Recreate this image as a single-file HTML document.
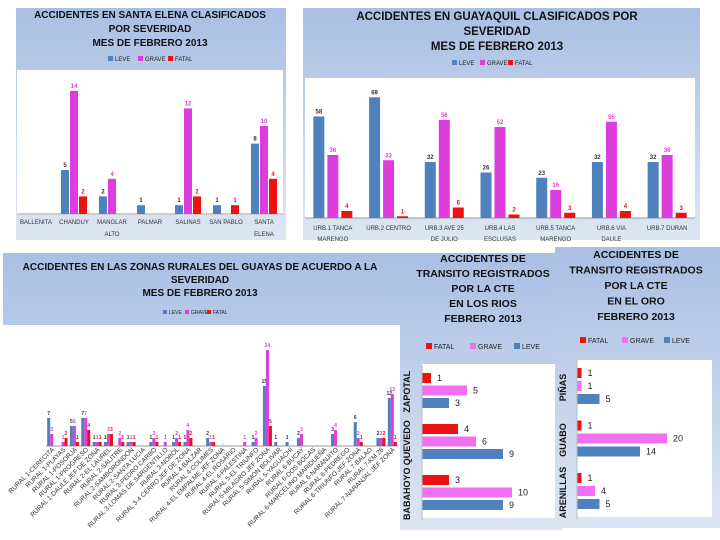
<!DOCTYPE html>
<html><head><meta charset="utf-8"><style>
html,body{margin:0;padding:0;background:#fff;}
svg{display:block;font-family:"Liberation Sans",sans-serif;}
</style></head><body>
<svg id="s" width="720" height="540" viewBox="0 0 720 540">
<defs>
<linearGradient id="bg" x1="0" y1="0" x2="0" y2="1"><stop offset="0" stop-color="#a9bfe3"/><stop offset="1" stop-color="#dde6f3"/></linearGradient>
</defs>
</svg>
<script>
// ---- data ----
const seCats=["BALLENITA","CHANDUY","MANGLAR|ALTO","PALMAR","SALINAS","SAN PABLO","SANTA|ELENA"];
const seLeve=[0,5,2,1,1,1,8];
const seGrave=[0,14,4,0,12,0,10];
const seFatal=[0,2,0,0,2,1,4];

const gyCats=["URB.1 TANCA|MARENGO","URB.2 CENTRO","URB.3 AVE 25|DE JULIO","URB.4 LAS|ESCLUSAS","URB.5 TANCA|MARENGO","URB.6 VIA|DAULE","URB.7 DURAN"];
const gyLeve=[58,69,32,26,23,32,32];
const gyGrave=[36,33,56,52,16,55,36];
const gyFatal=[4,1,6,2,3,4,3];

const ruCats=["RURAL 1-CERECITA","RURAL 1-PLAYAS","RURAL 1-POSORJA","RURAL 1-PROGRESO","RURAL 1-DAULE JEF DE ZONA","RURAL 2-EL LAUREL","RURAL 2-SALITRE","RURAL 2-SAMBORONDON","RURAL 2-SANTA LUCIA","RURAL 3-PEDRO CARBO","RURAL 3-LOMAS DE SARGENTILLO","RURAL 3-NOBOL","RURAL 3-4 CERRO JEF DE ZONA","RURAL 4-BALZAR","RURAL 4-COLIMES","RURAL 4-EL EMPALME JEF ZONA","RURAL 4-EL ROSARIO","RURAL 4-PALESTINA","RURAL 5-EL TRIUNFO","RURAL 5-MILAGRO JEF ZONA","RURAL 5-SIMON BOLIVAR","RURAL 5-YAGUACHI","RURAL 6-BUCAY","RURAL 6-DOS BOCAS","RURAL 6-MARCELINO MARIDUEÑA","RURAL 6-NARANJITO","RURAL 6-PEDREGO","RURAL 6-TRIUNFO JEF ZONA","RURAL 7-BALAO","RURAL 7-KM 26","RURAL 7-NARANJAL JEF ZONA"];
const ruLeve=[7,0,5,7,1,1,0,1,0,1,0,1,1,0,2,0,0,0,1,15,1,1,2,0,0,3,0,6,0,2,12];
const ruGrave=[3,1,5,7,1,3,2,1,0,2,1,2,4,0,1,0,0,1,2,24,0,0,3,0,0,4,0,2,0,2,13];
const ruFatal=[0,2,1,4,1,3,1,1,0,1,0,1,2,0,1,0,0,0,0,5,0,0,0,0,0,0,0,1,0,2,1];

const lrCats=["ZAPOTAL","QUEVEDO","BABAHOYO"];
const lrFatal=[1,4,3];
const lrGrave=[5,6,10];
const lrLeve=[3,9,9];

const eoCats=["PIÑAS","GUABO","ARENILLAS"];
const eoFatal=[1,1,1];
const eoGrave=[1,20,4];
const eoLeve=[5,14,5];

// ---- helpers ----
const svg=document.getElementById('s');
const NS="http://www.w3.org/2000/svg";
function mk(tag,attrs,parent){const e=document.createElementNS(NS,tag);for(const k in attrs)e.setAttribute(k,attrs[k]);(parent||svg).appendChild(e);return e;}
function txt(x,y,s,size,fill,weight,anchor,parent){const t=mk('text',{x:x,y:y,'font-size':size,fill:fill,'font-weight':weight||'normal','text-anchor':anchor||'middle'},parent);t.textContent=s;return t;}
const BLUE="#4f81bd",MAG="#dd3ddd",RED="#ee1111",PINK="#f070f0";

function panel(name,x,y,w,h,px,py,pw,ph){
  const g=mk('g',{});
  
  
  mk('rect',{x:x,y:y,width:w,height:h,fill:'url(#bg)'},g);
  const p=mk('rect',{x:px,y:py,width:pw,height:ph,fill:'#fff'},g);
  
  
  return g;
}
function title(g,lines,cx,y0,dy,size){
  const t=mk('g',{},g);
  
  
  lines.forEach((l,i)=>txt(cx,y0+i*dy,l,size,'#111','bold','middle',t));
}
function legend(g,items,x,y,size,gap){
  const lg=mk('g',{},g);
  
  
  let cx=x;
  items.forEach(it=>{
    const e=mk('g',{},lg);
    
    
    mk('rect',{x:cx,y:y-size+1,width:size-1,height:size-1,fill:it[1]},e);
    txt(cx+size+1,y,it[0],size,'#222','normal','start',e);
    cx+=gap;
  });
}

function vbars(g,cats,series,colors,x0,w,base,scale,bw,step,lblSize,catY,catSize,catDy,rot){
  const n=cats.length,cw=w/n;
  const axis=mk('line',{x1:x0,x2:x0+w,y1:base,y2:base,stroke:'#999','stroke-width':1},g);
  
  
  cats.forEach((c,i)=>{
    const cx=x0+cw*(i+0.5);
    const start=cx-(step*(series.length-1)+bw)/2;
    series.forEach((s,k)=>{
      const v=s[i];
      if(v>0){
        const h=v*scale;
        const r=mk('rect',{x:start+k*step,y:base-h,width:bw,height:h,fill:colors[k]},g);
        
        
        txt(start+k*step+bw/2,base-h-3,String(v),lblSize,k==0?'#333':colors[k],'bold','middle',g);
      }
    });
    if(rot){
      const t=txt(0,0,c,catSize,'#333','normal','end',g);
      t.setAttribute('transform','translate('+(cx+3)+','+(catY)+') rotate(-45)');
      
      
    }else{
      c.split('|').forEach((l,j)=>{
        const t=txt(cx,catY+j*catDy,l,catSize,'#333','normal','middle',g);
        
        
      });
    }
  });
}
function hbars(g,cats,series,colors,x0,y0,gh,scale,bh,step,catX){
  cats.forEach((c,i)=>{
    const gy=y0+i*gh;
    series.forEach((s,k)=>{
      const w=s[i]*scale;
      const r=mk('rect',{x:x0,y:gy+k*step,width:w,height:bh,fill:colors[k]},g);
      
      
      txt(x0+w+6,gy+k*step+bh-2,String(s[i]),9,'#222','normal','start',g);
    });
    const t=txt(0,0,c,9,'#111','bold','middle',g);
    t.setAttribute('transform','translate('+catX+','+(gy+step*1.5)+') rotate(-90)');
    
    
  });
  const ax=mk('line',{x1:x0,x2:x0,y1:y0-8,y2:y0+gh*cats.length-6,stroke:'#bbb'},g);
  
  
}

// ---- Santa Elena ----
let g=panel('santa-elena-chart',16,8,270,232,17,70,266,145);
title(g,["ACCIDENTES EN SANTA ELENA CLASIFICADOS","POR SEVERIDAD","MES DE FEBRERO 2013"],150,18,14,10);
legend(g,[["LEVE",BLUE],["GRAVE",MAG],["FATAL",RED]],108,61,6,30);
vbars(g,seCats,[seLeve,seGrave,seFatal],[BLUE,MAG,RED],17,266,214,8.8,8,9,6,224,6,12,false);

// ---- Guayaquil ----
g=panel('guayaquil-chart',303,8,397,232,305,78,390,140);
title(g,["ACCIDENTES EN GUAYAQUIL CLASIFICADOS POR","SEVERIDAD","MES DE FEBRERO 2013"],497,20,15,11.5);
legend(g,[["LEVE",BLUE],["GRAVE",MAG],["FATAL",RED]],452,65,6,28);
vbars(g,gyCats,[gyLeve,gyGrave,gyFatal],[BLUE,MAG,RED],305,390,218,1.75,11,14,6,230,6,11,false);

// ---- Rural ----
g=panel('rural-guayas-chart',3,253,397,276,3,325,397,204);
title(g,["ACCIDENTES EN LAS ZONAS RURALES DEL GUAYAS DE ACUERDO A LA","SEVERIDAD","MES DE FEBRERO 2013"],200,270,13,10);
legend(g,[["LEVE",BLUE],["GRAVE",MAG],["FATAL",RED]],163,314,5,22);
vbars(g,ruCats,[ruLeve,ruGrave,ruFatal],[BLUE,MAG,RED],46,352,446,4,3,3,5,450,6.5,0,true);

// ---- Los Rios ----
g=panel('los-rios-chart',400,253,162,277,422,364,133,154);
title(g,["ACCIDENTES DE","TRANSITO REGISTRADOS","POR LA CTE","EN LOS RIOS","FEBRERO 2013"],483,262,15,10.5);
legend(g,[["FATAL",RED],["GRAVE",PINK],["LEVE",BLUE]],426,349,7,44);
hbars(g,lrCats,[lrFatal,lrGrave,lrLeve],[RED,PINK,BLUE],422,373,51,9,10,12.5,410);

// ---- El Oro ----
g=panel('el-oro-chart',555,247,165,281,577,360,135,157);
title(g,["ACCIDENTES DE","TRANSITO REGISTRADOS","POR LA CTE","EN EL ORO","FEBRERO 2013"],636,258,15.5,10.5);
legend(g,[["FATAL",RED],["GRAVE",PINK],["LEVE",BLUE]],580,343,7,42);
hbars(g,eoCats,[eoFatal,eoGrave,eoLeve],[RED,PINK,BLUE],577,368,52.5,4.5,10,13,566);
</script>
</body></html>
